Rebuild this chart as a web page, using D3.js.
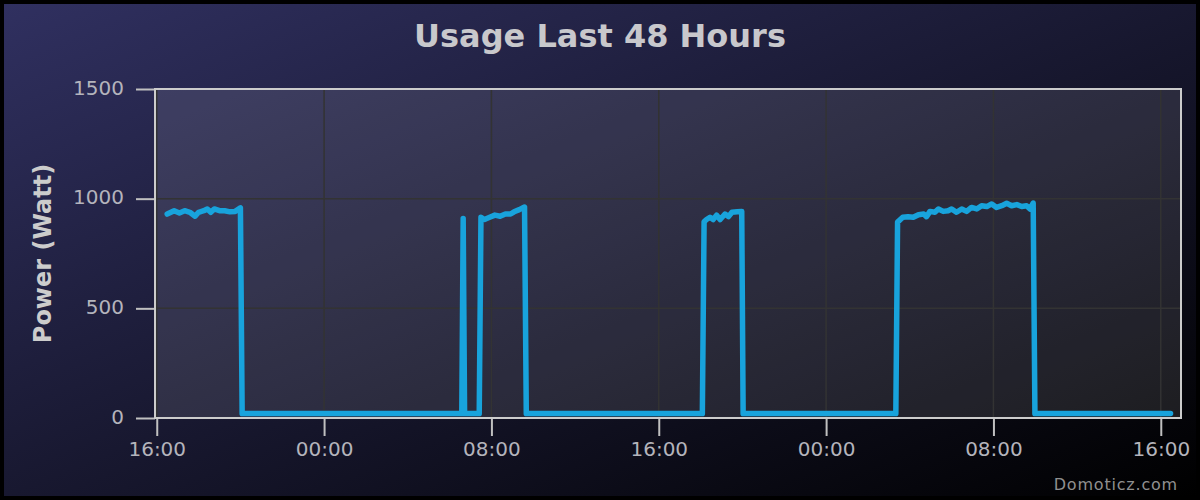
<!DOCTYPE html>
<html>
<head>
<meta charset="utf-8">
<script src="https://cdn.jsdelivr.net/npm/d3@7.9.0/dist/d3.min.js"></script>
<style>
  html, body { margin: 0; padding: 0; background: #000; }
  svg { display: block; font-family: "DejaVu Sans", sans-serif; }
</style>
</head>
<body>
<div id="chart"></div>
<script>
const title = 'Usage Last 48 Hours';
const yTitle = 'Power (Watt)';
const credits = 'Domoticz.com';

// x range of the chart (local time)
const xDomain = ['2024-03-01 15:55', '2024-03-03 16:58'];
const yTicks = [0, 500, 1000, 1500];

// readings, 5 min logging (only the points where the curve changes)
const times = [
  '2024-03-01 16:30', '2024-03-01 16:50', '2024-03-01 17:05', '2024-03-01 17:20',
  '2024-03-01 17:35', '2024-03-01 17:50', '2024-03-01 18:00', '2024-03-01 18:15',
  '2024-03-01 18:25', '2024-03-01 18:35', '2024-03-01 18:45', '2024-03-01 19:00',
  '2024-03-01 19:15', '2024-03-01 19:30', '2024-03-01 19:45', '2024-03-01 20:00',
  '2024-03-01 20:05',
  '2024-03-02 06:35', '2024-03-02 06:39', '2024-03-02 06:43',
  '2024-03-02 07:25', '2024-03-02 07:30', '2024-03-02 07:40', '2024-03-02 07:55',
  '2024-03-02 08:10', '2024-03-02 08:25', '2024-03-02 08:40', '2024-03-02 08:55',
  '2024-03-02 09:05', '2024-03-02 09:20', '2024-03-02 09:35', '2024-03-02 09:40',
  '2024-03-02 18:05', '2024-03-02 18:10', '2024-03-02 18:17', '2024-03-02 18:27',
  '2024-03-02 18:36', '2024-03-02 18:46', '2024-03-02 18:56', '2024-03-02 19:10',
  '2024-03-02 19:20', '2024-03-02 19:30', '2024-03-02 19:45', '2024-03-02 19:58',
  '2024-03-02 20:02',
  '2024-03-03 03:20', '2024-03-03 03:25', '2024-03-03 03:40', '2024-03-03 03:55',
  '2024-03-03 04:10', '2024-03-03 04:25', '2024-03-03 04:40', '2024-03-03 04:48',
  '2024-03-03 04:58', '2024-03-03 05:12', '2024-03-03 05:22', '2024-03-03 05:36',
  '2024-03-03 05:50', '2024-03-03 06:00', '2024-03-03 06:14', '2024-03-03 06:29',
  '2024-03-03 06:43', '2024-03-03 06:57', '2024-03-03 07:12', '2024-03-03 07:26',
  '2024-03-03 07:41', '2024-03-03 07:55', '2024-03-03 08:09', '2024-03-03 08:24',
  '2024-03-03 08:38', '2024-03-03 08:52', '2024-03-03 09:07', '2024-03-03 09:21',
  '2024-03-03 09:35', '2024-03-03 09:45', '2024-03-03 09:54', '2024-03-03 09:59',
  '2024-03-03 16:28'
];
const watts = [
  930, 945, 935, 945,
  938, 920, 938, 945,
  953, 938, 953, 945,
  945, 940, 942, 958,
  20,
  20, 910, 20,
  20, 915, 905, 915,
  925, 920, 930, 930,
  940, 950, 962, 20,
  20, 895, 905, 915,
  905, 925, 905, 930,
  918, 938, 940, 942,
  20,
  20, 893, 915, 918,
  915, 927, 930, 918,
  942, 938, 953, 942,
  945, 953, 938, 953,
  942, 960, 953, 968,
  964, 976, 960, 968,
  979, 968, 973, 964,
  968, 953, 980, 20,
  20
];

const parse = d3.timeParse('%Y-%m-%d %H:%M');
const data = times.map((t, i) => ({ date: parse(t), value: watts[i] }));

const width = 1200;
const height = 500;
const plot = { left: 155, right: 1181, top: 89, bottom: 418 };

const svg = d3.select('#chart')
  .append('svg')
  .attr('width', width)
  .attr('height', height);

const defs = svg.append('defs');
const bg = defs.append('linearGradient')
  .attr('id', 'bg')
  .attr('x1', 0).attr('y1', 0).attr('x2', 1).attr('y2', 1);
bg.append('stop').attr('offset', 0).attr('stop-color', 'rgb(48,48,96)');
bg.append('stop').attr('offset', 1).attr('stop-color', 'rgb(0,0,0)');

svg.append('rect')
  .attr('width', width).attr('height', height)
  .attr('fill', '#000');
svg.append('rect')
  .attr('x', 4).attr('y', 4)
  .attr('width', width - 8).attr('height', height - 8)
  .attr('fill', 'url(#bg)');

const xScale = d3.scaleTime()
  .domain(xDomain.map(parse))
  .range([plot.left, plot.right]);
const yScale = d3.scaleLinear()
  .domain([0, 1500])
  .range([plot.bottom, plot.top]);

// plot background
svg.append('rect')
  .attr('x', plot.left).attr('y', plot.top)
  .attr('width', plot.right - plot.left)
  .attr('height', plot.bottom - plot.top)
  .attr('fill', 'rgba(255,255,255,0.1)');

const xTicks = xScale.ticks(d3.timeHour.every(8));

// gridlines
const grid = svg.append('g').attr('stroke', '#333').attr('stroke-width', 1.5);
grid.selectAll('line.gx')
  .data(xTicks)
  .join('line')
  .attr('class', 'gx')
  .attr('x1', d => xScale(d)).attr('x2', d => xScale(d))
  .attr('y1', plot.top).attr('y2', plot.bottom);
grid.selectAll('line.gy')
  .data(yTicks)
  .join('line')
  .attr('class', 'gy')
  .attr('x1', plot.left).attr('x2', plot.right)
  .attr('y1', d => yScale(d)).attr('y2', d => yScale(d));

// axes
const xAxis = svg.append('g')
  .attr('transform', `translate(0, ${plot.bottom})`)
  .call(d3.axisBottom(xScale)
    .tickValues(xTicks)
    .tickFormat(d3.timeFormat('%H:%M'))
    .tickSize(18)
    .tickPadding(3));
const yAxis = svg.append('g')
  .attr('transform', `translate(${plot.left}, 0)`)
  .call(d3.axisLeft(yScale)
    .tickValues(yTicks)
    .tickFormat(d3.format('d'))
    .tickSize(19)
    .tickPadding(12));

[xAxis, yAxis].forEach(ax => {
  ax.select('.domain').remove();
  ax.selectAll('.tick line').attr('stroke', '#c0c0c0').attr('stroke-width', 2);
  ax.selectAll('.tick text')
    .attr('fill', '#b4b4bc')
    .style('font-size', '20px')
    .style('font-family', '"DejaVu Sans", sans-serif');
});
xAxis.selectAll('.tick text').attr('dy', '0.85em');
yAxis.selectAll('.tick text').attr('dy', '0.26em');

// plot border
svg.append('rect')
  .attr('x', plot.left).attr('y', plot.top)
  .attr('width', plot.right - plot.left)
  .attr('height', plot.bottom - plot.top)
  .attr('fill', 'none')
  .attr('stroke', '#cccccc')
  .attr('stroke-width', 2);

// series
const line = d3.line()
  .x(d => xScale(d.date))
  .y(d => yScale(d.value));

svg.append('path')
  .datum(data)
  .attr('d', line)
  .attr('fill', 'none')
  .attr('stroke', '#18a3dc')
  .attr('stroke-width', 5.5)
  .attr('stroke-linejoin', 'round')
  .attr('stroke-linecap', 'round');

// titles
svg.append('text')
  .attr('x', width / 2).attr('y', 47)
  .attr('text-anchor', 'middle')
  .attr('fill', '#c8c8cc')
  .style('font-size', '32px')
  .style('font-weight', 'bold')
  .text(title);

svg.append('text')
  .attr('transform', `translate(51, ${(plot.top + plot.bottom) / 2}) rotate(-90)`)
  .attr('text-anchor', 'middle')
  .attr('fill', '#cccccc')
  .style('font-size', '24px')
  .style('font-weight', 'bold')
  .text(yTitle);

svg.append('text')
  .attr('x', 1178).attr('y', 490)
  .attr('text-anchor', 'end')
  .attr('fill', '#909090')
  .style('font-size', '16px')
  .style('letter-spacing', '0.8px')
  .text(credits);
</script>
</body>
</html>
